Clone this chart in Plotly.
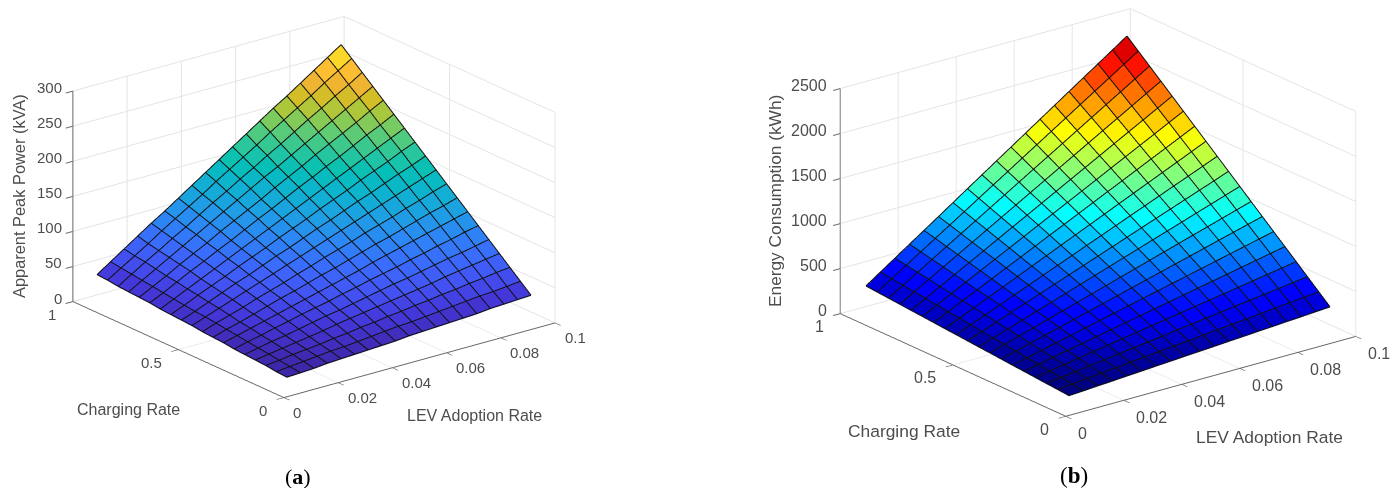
import plotly.graph_objects as go

lev_rate = [0.005, 0.01, 0.015, 0.02, 0.025, 0.03, 0.035, 0.04, 0.045, 0.05,
            0.055, 0.06, 0.065, 0.07, 0.075, 0.08, 0.085, 0.09, 0.095]
charging_rate = [0.05, 0.1, 0.15, 0.2, 0.25, 0.3, 0.35, 0.4, 0.45, 0.5,
                 0.55, 0.6, 0.65, 0.7, 0.75, 0.8, 0.85, 0.9, 0.95]

peak_power = [
    [16,17,18,20,21,22,23,24,25,27,28,29,30,31,32,34,35,36,37],
    [17,19,21,23,25,26,28,30,32,34,35,37,39,41,43,45,46,48,50],
    [19,21,24,26,28,31,33,36,38,41,43,46,48,51,53,56,58,61,63],
    [20,23,26,29,32,35,39,42,45,48,51,54,57,60,64,67,70,73,76],
    [21,25,29,32,36,40,44,47,51,55,59,63,66,70,74,78,81,85,89],
    [22,27,31,36,40,45,49,53,58,62,67,71,75,80,84,89,93,98,102],
    [24,29,34,39,44,49,54,59,64,69,74,80,85,90,95,100,105,110,115],
    [25,31,36,42,48,54,59,65,71,76,82,88,94,99,105,111,117,122,128],
    [26,33,39,45,52,58,64,71,77,84,90,96,103,109,115,122,128,135,141],
    [28,35,42,49,56,63,70,77,84,91,98,105,112,119,126,133,140,147,154],
    [29,36,44,52,60,67,75,83,90,98,106,113,121,129,136,144,152,159,167],
    [30,38,47,55,63,72,80,88,97,105,113,122,130,138,147,155,163,172,180],
    [31,40,49,58,67,76,85,94,103,112,121,130,139,148,157,166,175,184,193],
    [33,42,52,62,71,81,90,100,110,119,129,139,148,158,167,177,187,196,206],
    [34,44,54,65,75,85,96,106,116,126,137,147,157,168,178,188,198,209,219],
    [35,46,57,68,79,90,101,112,123,134,145,155,166,177,188,199,210,221,232],
    [36,48,60,71,83,94,106,118,129,141,152,164,175,187,199,210,222,233,245],
    [38,50,62,74,87,99,111,123,136,148,160,172,185,197,209,221,234,246,258],
    [39,52,65,78,91,103,116,129,142,155,168,181,194,207,219,232,245,258,271],
]
energy = [
    [121,131,142,152,163,173,184,194,205,215,225,236,246,257,267,278,288,299,309],
    [132,148,164,180,196,212,227,243,259,275,291,307,323,339,355,371,387,403,419],
    [142,164,185,207,228,250,271,293,314,336,357,379,400,422,443,465,486,508,529],
    [153,180,207,234,261,288,315,342,369,396,423,450,477,504,531,558,585,612,639],
    [164,196,229,261,294,326,359,391,424,456,489,522,554,587,619,652,684,717,749],
    [174,212,250,288,327,365,403,441,479,517,555,593,631,669,707,745,783,821,859],
    [185,229,272,316,359,403,446,490,534,577,621,664,708,751,795,839,882,926,969],
    [196,245,294,343,392,441,490,539,588,638,687,736,785,834,883,932,981,1030,1079],
    [206,261,316,370,425,479,534,589,643,698,753,807,862,916,971,1026,1080,1135,1190],
    [217,277,337,397,458,518,578,638,698,758,818,879,939,999,1059,1119,1179,1239,1300],
    [228,293,359,425,490,556,622,687,753,819,884,950,1016,1081,1147,1213,1278,1344,1410],
    [238,310,381,452,523,594,665,737,808,879,950,1021,1093,1164,1235,1306,1377,1449,1520],
    [249,326,402,479,556,633,709,786,863,939,1016,1093,1170,1246,1323,1400,1476,1553,1630],
    [260,342,424,506,589,671,753,835,918,1000,1082,1164,1246,1329,1411,1493,1575,1658,1740],
    [270,358,446,534,621,709,797,885,972,1060,1148,1236,1323,1411,1499,1587,1674,1762,1850],
    [281,374,468,561,654,747,841,934,1027,1120,1214,1307,1400,1494,1587,1680,1773,1867,1960],
    [292,390,489,588,687,786,884,983,1082,1181,1280,1378,1477,1576,1675,1774,1872,1971,2070],
    [302,407,511,615,720,824,928,1033,1137,1241,1346,1450,1554,1658,1763,1867,1971,2076,2180],
    [313,423,533,643,752,862,972,1082,1192,1302,1411,1521,1631,1741,1851,1961,2070,2180,2290],
]

x_ticks = [0, 0.02, 0.04, 0.06, 0.08, 0.1]
x_tick_labels = ["0", "0.02", "0.04", "0.06", "0.08", "0.1"]
y_ticks = [0, 0.5, 1]
y_tick_labels = ["0", "0.5", "1"]
z_ticks_a = [0, 50, 100, 150, 200, 250, 300]
z_ticks_b = [0, 500, 1000, 1500, 2000, 2500]

parula = [[0,"#3e26a8"],[0.07,"#4436d8"],[0.14,"#4353f4"],[0.21,"#3a6cfd"],[0.29,"#2b88f4"],
          [0.36,"#1ea0e3"],[0.43,"#0eb2d0"],[0.5,"#04bfb8"],[0.57,"#2cc79a"],[0.64,"#63cc71"],
          [0.71,"#aac83c"],[0.757,"#d2be28"],[0.81,"#f0b432"],[0.855,"#fdbe32"],[0.90,"#fad728"],
          [1,"#f9fb15"]]
jet = [[0,"#000080"],[0.11,"#0000ff"],[0.125,"#0000ff"],[0.375,"#00ffff"],[0.625,"#ffff00"],
       [0.805,"#ff4a00"],[0.853,"#ff1000"],[0.90,"#e00000"],[1,"#800000"]]

TICK = "#4d4d4d"


def mesh(xs, ys, zs, colorscale, scene):
    n, m = len(ys), len(xs)
    vx, vy, vz, ii, jj, kk, cc = [], [], [], [], [], [], []
    for r in range(n):
        for c in range(m):
            vx.append(xs[c]); vy.append(ys[r]); vz.append(zs[r][c])
    for r in range(n - 1):
        for c in range(m - 1):
            a = r * m + c
            ii += [a, a]; jj += [a + 1, a + m + 1]; kk += [a + m + 1, a + m]
            cc += [zs[r][c], zs[r][c]]
    return go.Mesh3d(x=vx, y=vy, z=vz, i=ii, j=jj, k=kk, intensity=cc, intensitymode="cell",
                     colorscale=colorscale, cmin=min(map(min, zs)), cmax=max(map(max, zs)),
                     showscale=False, flatshading=True, hoverinfo="skip", scene=scene,
                     lighting=dict(ambient=1, diffuse=0, specular=0, roughness=1, fresnel=0))


def wires(xs, ys, zs, scene, lift):
    lx, ly, lz = [], [], []
    for r in range(len(ys)):
        lx += list(xs) + [None]; ly += [ys[r]] * len(xs) + [None]
        lz += [v + lift for v in zs[r]] + [None]
    for c in range(len(xs)):
        lx += [xs[c]] * len(ys) + [None]; ly += list(ys) + [None]
        lz += [zs[r][c] + lift for r in range(len(ys))] + [None]
    return go.Scatter3d(x=lx, y=ly, z=lz, mode="lines", line=dict(color="#101010", width=2),
                        hoverinfo="skip", showlegend=False, scene=scene)


def axis(rng, ticks):
    return dict(range=rng, tickvals=ticks, showticklabels=False, title=dict(text=""),
                showbackground=False, showgrid=True, gridcolor="#e4e4e4", gridwidth=2,
                showline=True, linecolor="#666666", linewidth=2, zeroline=False,
                ticks="outside", ticklen=9, tickwidth=2, tickcolor="#666666", showspikes=False)


def scene_layout(dom_x, dom_y, zrange, zticks, size, s, xoff, xdown, zoff):
    ann = []
    for v, t in zip(x_ticks, x_tick_labels):
        ann.append(dict(x=v, y=0, z=0, text=t, showarrow=False, xanchor="left", xshift=xoff,
                        yshift=-xdown, font=dict(size=size, color=TICK)))
    for v, t in zip(y_ticks, y_tick_labels):
        ann.append(dict(x=0, y=v, z=0, text=t, showarrow=False, xanchor="right", xshift=-14,
                        yshift=-13, font=dict(size=size, color=TICK)))
    for v in zticks:
        ann.append(dict(x=0, y=1, z=v, text=str(v), showarrow=False, xanchor="right", xshift=zoff,
                        yshift=3.5, font=dict(size=size, color=TICK)))
    d = (-0.574, -0.738, 0.354)
    r = 2.0
    return dict(domain=dict(x=dom_x, y=dom_y),
                xaxis=axis([0, 0.1], x_ticks), yaxis=axis([0, 1], y_ticks), zaxis=axis(zrange, zticks),
                aspectmode="manual", aspectratio=dict(x=s, y=s, z=0.655 * s),
                camera=dict(projection=dict(type="orthographic"), up=dict(x=0, y=0, z=1),
                            center=dict(x=0, y=0, z=0),
                            eye=dict(x=d[0] * r, y=d[1] * r, z=d[2] * r)),
                annotations=ann)


W, H = 1397, 488
fig = go.Figure()
fig.add_trace(mesh(lev_rate, charging_rate, peak_power, parula, "scene"))
fig.add_trace(wires(lev_rate, charging_rate, peak_power, "scene", 1.0))
fig.add_trace(mesh(lev_rate, charging_rate, energy, jet, "scene2"))
fig.add_trace(wires(lev_rate, charging_rate, energy, "scene2", 8.0))


def text(x, y, t, size, angle=0, family="Liberation Sans", color=TICK):
    return dict(x=x / W, y=1 - y / H, xref="paper", yref="paper", text=t, showarrow=False,
                textangle=angle, xanchor="center", yanchor="middle",
                font=dict(family=family, size=size, color=color))


fig.update_layout(
    width=W, height=H, margin=dict(l=0, r=0, t=0, b=0), paper_bgcolor="white", showlegend=False,
    font=dict(family="Liberation Sans"),
    scene=scene_layout([13.5 / W, 613.5 / W], [1 - 414 / H, 1], [0, 300], z_ticks_a, 15, 1.66, 8, 15, -8),
    scene2=scene_layout([799.5 / W, 1395.5 / W], [1 - 425 / H, 1], [0, 2500], z_ticks_b, 16, 1.729, 11, 17, -11),
    annotations=[
        text(128, 409, "Charging Rate", 16),
        text(474, 415, "LEV Adoption Rate", 16),
        text(19, 196, "Apparent Peak Power (kVA)", 16.4, -90),
        text(903.5, 431, "Charging Rate", 17.4),
        text(1269.5, 437, "LEV Adoption Rate", 17.4),
        text(775, 201, "Energy Consumption (kWh)", 17.3, -90),
        text(297.5, 476, "(<b>a</b>)", 22, family="Liberation Serif", color="#000000"),
        text(1074, 475, "(<b>b</b>)", 23, family="Liberation Serif", color="#000000"),
    ],
)
fig.write_html("out.html", post_script="document.body.style.margin='0';",
               config=dict(displayModeBar=False))
